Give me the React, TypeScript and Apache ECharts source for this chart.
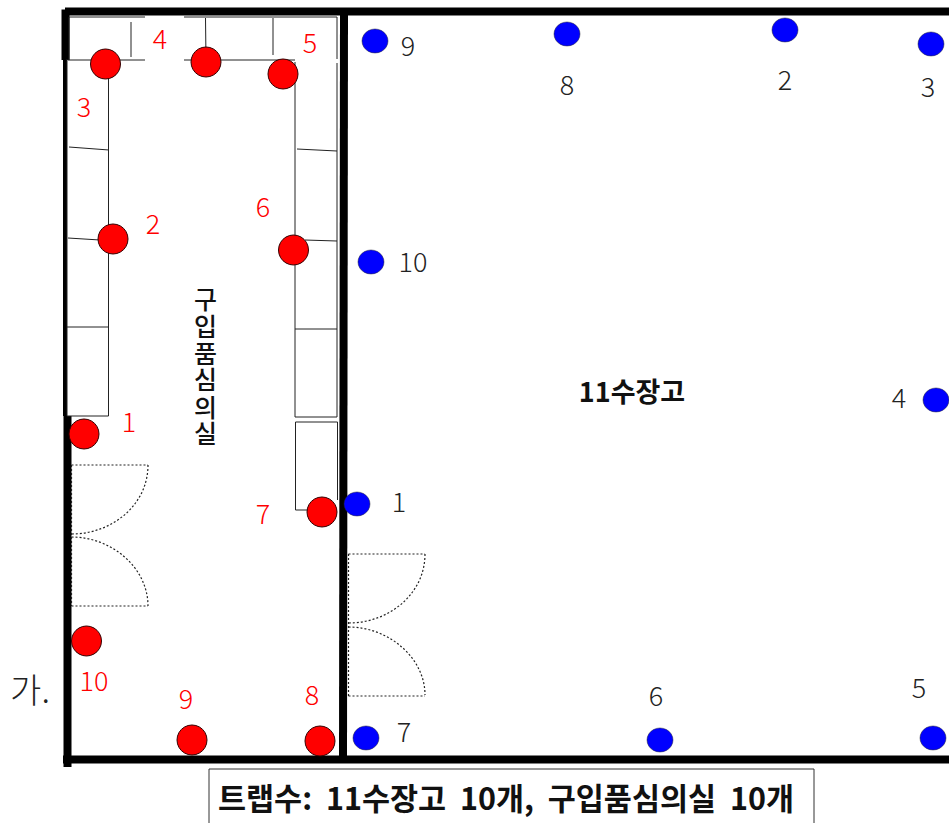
import React, { useEffect, useRef } from "react";
import * as echarts from "echarts";

const redTraps: number[][] = [[84,434],[113,239],[105.5,64],[206,62],[283,74],[293.5,250],[322,512],[320,741],[192,740],[86.5,641]];
const blueTraps: number[][] = [[357,504],[785,30],[931,44],[936,400],[933,738],[660,740],[366,738],[567,34],[375,41],[371,262]];
const redNumbers = ["1","2","3","4","5","6","7","8","9","10"];
const redNumberAt: number[][] = [[129,420],[153,222],[84,105],[160,37],[310,41],[263,205],[263,512],[312,693],[186,697],[94,679]];
const blueNumbers = ["1","2","3","4","5","6","7","8","9","10"];
const blueNumberAt: number[][] = [[399,500],[785,78],[928,85],[899,396],[919,686],[656,694],[404,730],[567,83],[408,44],[413,260]];
const roomChars = ["구","입","품","심","의","실"];
const roomCharY = [298,325,352,378,406,432];

const walls: number[][] = [
  [65.5,9.5,65.5,60],[65,60,65,416],[67.5,416,67.5,767],[65,11.5,949,11.5],[344,11,343,760],[63,759.5,949,759.5],
];
const wallWidths = [8,4,8,8,8,8];
const shelves: number[][] = [
  [69,17,145,17],[184,17,337,17],[69,17,69,60],[337,17,337,59],[66,60,145,60],[184,60,295,60],
  [131,22,131,57],[205.5,18,206,60],[273,18,273,55],
  [67,61,67,416],[108.5,64,108.5,416],[67,416,108.5,416],
  [69,147,109,150],[68,238,100,240],[67,327,108,327],
  [295,62,295,417],[337,63,337,417],[295,417,337,417],
  [297,149,337,151],[305,240,337,241],[295,329,337,329],
  [295.5,422,337.5,422],[295.5,422,295.5,510],[337.5,422,337.5,500],[295.5,510,310,510],
];
const boxEdges: number[][] = [[209,769,814,769],[209,769,209,823],[814,769,814,823]];
const doorEdges: number[][] = [
  [71.5,465,148,465],[71.5,465,71.5,606],[71.5,606,148,606],
  [348.5,554,425,554],[348.5,554,348.5,696],[348.5,696,425,696],
];
const doorCurves: number[][] = [
  [148,465,148,505,112,534,71.5,534],
  [71.5,537,112,537,148,568,148,606],
  [425,554,425,594,389,623,348.5,623],
  [348.5,627,389,627,425,658,425,695],
];

const FONT = '"Noto Sans CJK KR"';

function segmentSeries(name: string, data: number[][], color: string, width: number | number[], dotted = false) {
  return {
    type: "custom",
    name,
    silent: true,
    data,
    encode: { x: [0, 2], y: [1, 3] },
    renderItem: (p: any, api: any) => {
      const a = api.coord([api.value(0), api.value(1)]);
      const b = api.coord([api.value(2), api.value(3)]);
      const w = Array.isArray(width) ? width[p.dataIndex] : width;
      return {
        type: "line",
        shape: { x1: a[0], y1: a[1], x2: b[0], y2: b[1] },
        style: { stroke: color, lineWidth: w, lineDash: dotted ? [2, 2] : undefined, fill: null },
      };
    },
  };
}

function curveSeries(name: string, data: number[][]) {
  return {
    type: "custom",
    name,
    silent: true,
    data,
    encode: { x: [0, 6], y: [1, 7] },
    renderItem: (_p: any, api: any) => {
      const p = [0, 2, 4, 6].map((i) => api.coord([api.value(i), api.value(i + 1)]));
      return {
        type: "bezierCurve",
        shape: {
          x1: p[0][0], y1: p[0][1], cpx1: p[1][0], cpy1: p[1][1],
          cpx2: p[2][0], cpy2: p[2][1], x2: p[3][0], y2: p[3][1],
        },
        style: { stroke: "#222", lineWidth: 1.2, lineDash: [2, 2], fill: "none" },
      };
    },
  };
}

function textSeries(name: string, items: { t: string; at: number[] }[], label: any) {
  return {
    type: "scatter",
    name,
    silent: true,
    symbolSize: 1,
    itemStyle: { color: "transparent", opacity: 1 },
    z: 6,
    data: items.map((d) => ({ name: d.t, value: d.at })),
    label: { show: true, opacity: 1, position: "inside", formatter: "{b}", fontFamily: FONT, align: "center", verticalAlign: "middle", ...label },
  };
}

export default function App() {
  const ref = useRef<HTMLDivElement>(null);
  useEffect(() => {
    const chart = echarts.init(ref.current!, undefined, { renderer: "svg" });
    chart.setOption({
      animation: false,
      backgroundColor: "#fff",
      grid: { left: 0, right: 0, top: 0, bottom: 0 },
      xAxis: { type: "value", min: 0, max: 949, show: false },
      yAxis: { type: "value", min: 0, max: 823, inverse: true, show: false },
      series: [
        segmentSeries("walls", walls, "#000", wallWidths),
        segmentSeries("shelves", shelves, "#222", 1),
        segmentSeries("doors", doorEdges, "#222", 1.2, true),
        curveSeries("doorCurves", doorCurves),
        segmentSeries("box", boxEdges, "#333", 1),
        {
          type: "scatter", name: "구입품심의실 트랩", silent: true, z: 4, data: redTraps, symbol: "circle", symbolSize: 30,
          itemStyle: { color: "#ff0000", borderColor: "#300", borderWidth: 1, opacity: 1 },
        },
        {
          type: "scatter", name: "11수장고 트랩", silent: true, z: 4, data: blueTraps, symbol: "circle", symbolSize: [26, 24],
          itemStyle: { color: "#0000ff", borderColor: "#223", borderWidth: 0.5, opacity: 1 },
        },
        textSeries("redNumbers", redNumbers.map((t, i) => ({ t, at: redNumberAt[i] })), { color: "#ff0000", fontSize: 27, fontWeight: 300 }),
        textSeries("blueNumbers", blueNumbers.map((t, i) => ({ t, at: blueNumberAt[i] })), { color: "#222", fontSize: 27, fontWeight: 300 }),
        textSeries("room", roomChars.map((t, i) => ({ t, at: [205.5, roomCharY[i]] })), { color: "#111", fontSize: 25, fontWeight: 500 }),
        textSeries("store", [{ t: "11수장고", at: [632, 390] }], { color: "#111", fontSize: 27, fontWeight: 700 }),
        textSeries("gaLabel", [{ t: "가.", at: [30, 688] }], { color: "#222", fontSize: 34, fontWeight: 300 }),
        textSeries("summary", [{ t: "트랩수:  11수장고  10개,  구입품심의실  10개", at: [506, 797] }], { color: "#111", fontSize: 30.5, fontWeight: 700 }),
      ],
    });
    return () => chart.dispose();
  }, []);
  return <div ref={ref} style={{ position: "absolute", left: 0, top: 0, width: 949, height: 823 }} />;
}
